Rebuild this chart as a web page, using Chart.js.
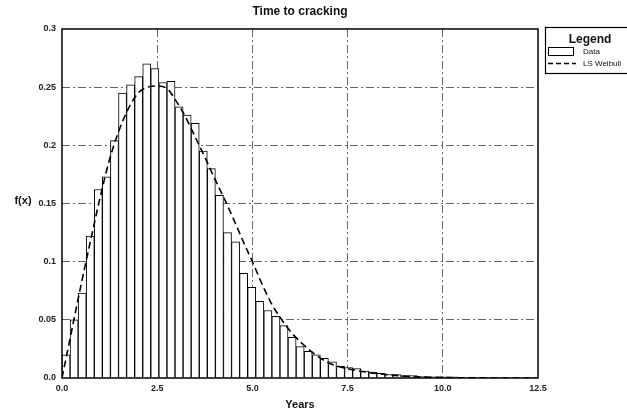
<!DOCTYPE html>
<html>
<head>
<meta charset="utf-8">
<script src="https://cdn.jsdelivr.net/npm/chart.js@4.4.1/dist/chart.umd.min.js"></script>
<style>
  html, body { margin: 0; padding: 0; background: #fff; }
</style>
</head>
<body>
<canvas id="chart" width="627" height="417"></canvas>
<script>
// histogram bins (years) and densities
const binWidth = 0.212;
const density = [
  0.020, 0.050, 0.073, 0.122, 0.162, 0.173, 0.204, 0.245, 0.252, 0.259,
  0.270, 0.266, 0.254, 0.255, 0.233, 0.226, 0.219, 0.195, 0.180, 0.157,
  0.125, 0.117, 0.090, 0.078, 0.066, 0.058, 0.053, 0.045, 0.035, 0.027,
  0.023, 0.020, 0.017, 0.014, 0.010, 0.009, 0.008, 0.006, 0.005, 0.004,
  0.003, 0.003, 0.002, 0.002, 0.0015, 0.001, 0.001, 0.001, 0.001
];

// LS Weibull fit
const curveX = [0, 0.25, 0.5, 0.75, 1.0, 1.25, 1.5, 1.75, 2.0, 2.25, 2.5, 2.75, 3.0,
  3.25, 3.5, 3.75, 4.0, 4.25, 4.5, 4.75, 5.0, 5.25, 5.5, 5.75, 6.0, 6.5, 7.0, 7.5,
  8.0, 8.5, 9.0, 9.5, 10.0, 11.0, 12.5];
const curveY = [0, 0.040, 0.080, 0.118, 0.155, 0.188, 0.213, 0.232, 0.245, 0.250, 0.251,
  0.249, 0.238, 0.224, 0.207, 0.190, 0.172, 0.155, 0.137, 0.118, 0.100, 0.081, 0.064,
  0.051, 0.040, 0.024, 0.013, 0.008, 0.005, 0.003, 0.0015, 0.0008, 0.0004, 0.0001, 0];

const xTickLabels = ['0.0', '2.5', '5.0', '7.5', '10.0', '12.5'];
const yTickLabels = ['0.0', '0.05', '0.1', '0.15', '0.2', '0.25', '0.3'];

const FONT = '"Liberation Sans", Arial, sans-serif';

const barData = density.map((d, i) => ({ x: (i + 0.5) * binWidth, y: d }));
const lineData = curveX.map((x, i) => ({ x: x, y: curveY[i] }));

// frame, titles and the boxed legend
const decor = {
  id: 'decor',
  afterDraw(chart) {
    const { ctx, chartArea: a } = chart;
    ctx.save();
    ctx.strokeStyle = '#000';
    ctx.lineWidth = 1.5;
    ctx.strokeRect(a.left, a.top, a.right - a.left, a.bottom - a.top);

    ctx.fillStyle = '#111';
    ctx.textAlign = 'center';
    ctx.textBaseline = 'middle';
    ctx.font = 'bold 12px ' + FONT;
    ctx.fillText('Time to cracking', (a.left + a.right) / 2, 12);
    ctx.font = 'bold 11px ' + FONT;
    ctx.fillText('Years', (a.left + a.right) / 2, 405);
    ctx.fillText('f(x)', 23, 201);

    // legend
    ctx.lineWidth = 1.2;
    ctx.strokeRect(545.5, 27.5, 90, 46);
    ctx.font = 'bold 12px ' + FONT;
    ctx.fillText('Legend', 590, 40);
    ctx.fillStyle = '#fff';
    ctx.fillRect(548, 47, 25, 8);
    ctx.lineWidth = 1;
    ctx.strokeRect(548.5, 47.5, 25, 8);
    ctx.beginPath();
    ctx.setLineDash([5, 3]);
    ctx.lineWidth = 1.4;
    ctx.moveTo(548, 63.5);
    ctx.lineTo(576, 63.5);
    ctx.stroke();
    ctx.setLineDash([]);
    ctx.fillStyle = '#111';
    ctx.textAlign = 'left';
    ctx.font = '8px ' + FONT;
    ctx.fillText(chart.data.datasets[0].label, 583, 52);
    ctx.fillText(chart.data.datasets[1].label, 583, 64);
    ctx.restore();
  }
};

const gridColor = (ctx) => {
  const s = ctx.scale;
  return (ctx.tick.value === s.min || ctx.tick.value === s.max) ? 'rgba(0,0,0,0)' : '#666';
};

new Chart(document.getElementById('chart'), {
  type: 'bar',
  data: {
    datasets: [
      {
        type: 'bar',
        label: 'Data',
        data: barData,
        backgroundColor: '#fff',
        borderColor: '#000',
        borderWidth: 1,
        barPercentage: 1,
        categoryPercentage: 1,
        order: 1
      },
      {
        type: 'line',
        label: 'LS Weibull',
        data: lineData,
        borderColor: '#000',
        borderWidth: 1.6,
        borderDash: [7, 4],
        pointRadius: 0,
        cubicInterpolationMode: 'monotone',
        fill: false,
        order: 0
      }
    ]
  },
  options: {
    responsive: false,
    animation: false,
    layout: { padding: { top: 29, right: 89, left: 0, bottom: 0 } },
    plugins: {
      legend: { display: false },
      title: { display: false },
      tooltip: { enabled: false }
    },
    scales: {
      x: {
        type: 'linear',
        min: 0,
        max: 12.5,
        offset: false,
        afterFit: (scale) => { scale.height = 39; },
        grid: { color: gridColor, lineWidth: 1, drawTicks: false, offset: false },
        border: { display: false, dash: [8, 3, 2, 3] },
        ticks: {
          stepSize: 2.5,
          padding: 5,
          color: '#222',
          font: { family: FONT, size: 9, weight: 'bold' },
          maxRotation: 0,
          callback: (v, i) => xTickLabels[i]
        }
      },
      y: {
        min: 0,
        max: 0.3,
        afterFit: (scale) => { scale.width = 62; },
        grid: { color: gridColor, lineWidth: 1, drawTicks: false },
        border: { display: false, dash: [8, 3, 2, 3] },
        ticks: {
          stepSize: 0.05,
          padding: 6,
          color: '#222',
          font: { family: FONT, size: 9, weight: 'bold' },
          callback: (v, i) => yTickLabels[i]
        }
      }
    }
  },
  plugins: [decor]
});
</script>
</body>
</html>
